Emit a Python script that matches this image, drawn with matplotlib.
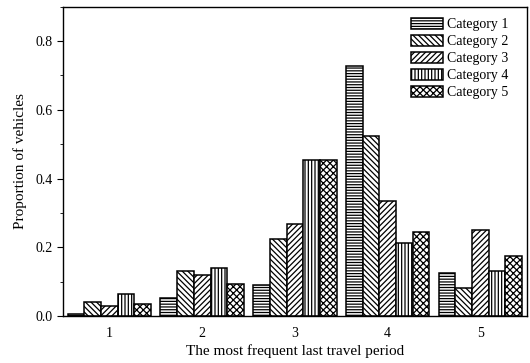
import numpy as np
import matplotlib
matplotlib.use("Agg")
import matplotlib.pyplot as plt
from matplotlib.ticker import MultipleLocator

# --- data ---
periods = [1, 2, 3, 4, 5]
series_names = ["Category 1", "Category 2", "Category 3", "Category 4", "Category 5"]
cat1 = [0.005, 0.052, 0.090, 0.728, 0.124]
cat2 = [0.040, 0.130, 0.225, 0.525, 0.081]
cat3 = [0.029, 0.120, 0.268, 0.335, 0.250]
cat4 = [0.063, 0.141, 0.455, 0.212, 0.131]
cat5 = [0.034, 0.092, 0.455, 0.243, 0.176]
hatches = ["------", "\\\\\\\\\\\\", "//////", "|||||", "xxxxx"]

plt.rcParams["font.family"] = ["Liberation Serif", "DejaVu Serif"]
plt.rcParams["hatch.linewidth"] = 0.9
plt.rcParams["hatch.color"] = "black"

fig = plt.figure(figsize=(5.30, 3.63), dpi=100)
ax = fig.add_axes([0.119, 0.1295, 0.875, 0.852])

x = np.array(periods, dtype=float)
width = 0.18
for i, (vals, name, h) in enumerate(zip([cat1, cat2, cat3, cat4, cat5], series_names, hatches)):
    ax.bar(x + (i - 2) * width, vals, width, facecolor="white", edgecolor="black",
           linewidth=1.1, hatch=h, label=name)

ax.set_xlim(0.5, 5.5)
ax.set_ylim(0, 0.9)
ax.set_xticks(periods)
ax.tick_params(axis="x", length=0, labelsize=10, pad=8)
ax.yaxis.set_major_locator(MultipleLocator(0.2))
ax.yaxis.set_minor_locator(MultipleLocator(0.1))
ax.tick_params(axis="y", which="major", direction="out", length=4, labelsize=10)
ax.tick_params(axis="y", which="minor", direction="out", length=2.5)
ax.set_yticklabels([f"{v:.1f}" for v in ax.get_yticks()])
for s in ax.spines.values():
    s.set_linewidth(1.0)

ax.set_xlabel("The most frequent last travel period", fontsize=11, labelpad=3)
ax.set_ylabel("Proportion of vehicles", fontsize=11, labelpad=6)

ax.legend(loc="upper right", bbox_to_anchor=(0.985, 1.0), frameon=False,
          fontsize=10, handlelength=2.3, handleheight=0.9, labelspacing=0.25,
          handletextpad=0.3, borderaxespad=0.4)

fig.savefig("out.png", dpi=100)
